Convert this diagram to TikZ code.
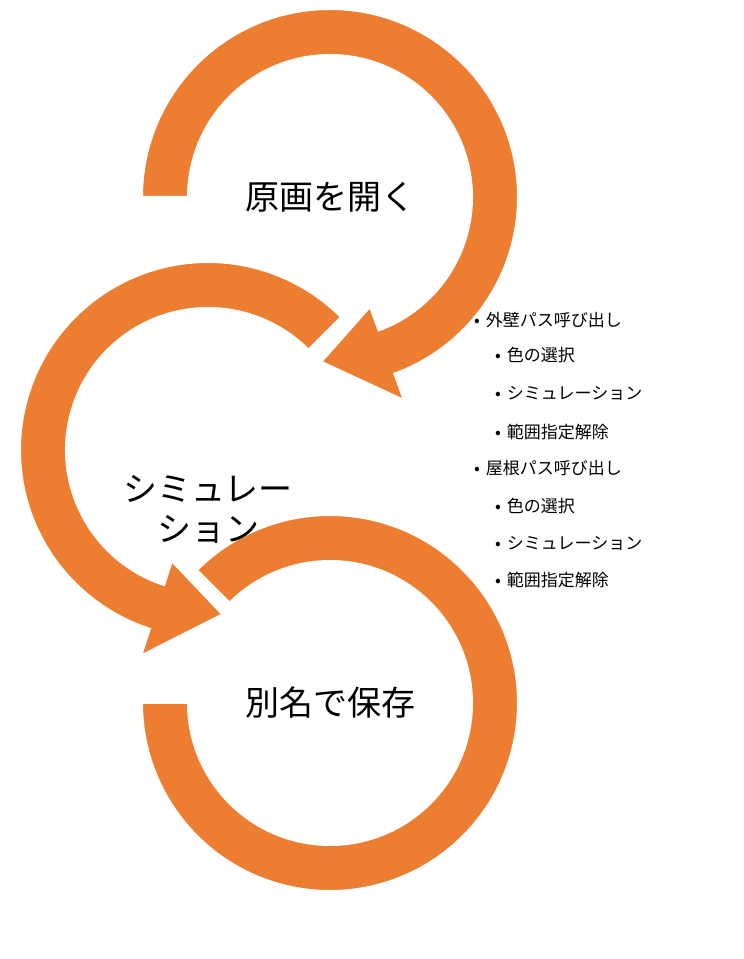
\documentclass[tikz,border=0pt]{standalone}
\usepackage{fontspec}
\setmainfont{Noto Sans CJK JP}
\usetikzlibrary{calc}
\definecolor{ringorange}{RGB}{237,125,49}

\begin{document}
\begin{tikzpicture}[x=1pt, y=1pt,
  ring/.style={fill=ringorange, draw=white, line width=2pt},
  title/.style={font=\fontsize{34}{40}\selectfont, align=center},
  itemone/.style={anchor=west, font=\fontsize{17}{20}\selectfont, inner sep=0pt},
  itemtwo/.style={anchor=west, font=\fontsize{17}{20}\selectfont, inner sep=0pt}]
\useasboundingbox (0,0) rectangle (744,959);
% ring centres
\coordinate (ctop) at (330,762);
\coordinate (cmid) at (208,509);
\coordinate (cbot) at (330,256);

% top ring with arrow
\fill[ring] ($(ctop)+(180:188)$) arc[start angle=180, end angle=-70, radius=188]
  -- ($(ctop)+(-70:216)$) -- ($(ctop)+(-93:165)$) -- ($(ctop)+(-70:117)$)
  -- ($(ctop)+(-70:142)$) arc[start angle=-70, end angle=180, radius=142] -- cycle;
% middle ring with arrow
\fill[ring] ($(cmid)+(45:188)$) arc[start angle=45, end angle=252, radius=188]
  -- ($(cmid)+(252:216)$) -- ($(cmid)+(275:165)$) -- ($(cmid)+(252:117)$)
  -- ($(cmid)+(252:142)$) arc[start angle=252, end angle=45, radius=142] -- cycle;
% bottom ring
\fill[ring] ($(cbot)+(135:188)$) arc[start angle=135, end angle=-180, radius=188]
  -- ($(cbot)+(180:142)$) arc[start angle=-180, end angle=135, radius=142] -- cycle;

% step texts
\node[title] (open) at (ctop) {原画を開く};
\node[title] (sim) at (208,450) {シミュレー\\ション};
\node[title] (save) at (cbot) {別名で保存};

% bullet list
\node[itemone] (wall) at (474,639) {•\hspace{6pt}外壁パス呼び出し};
\node[itemtwo] (wallcol) at (495,604) {•\hspace{6pt}色の選択};
\node[itemtwo] (wallsim) at (495,566) {•\hspace{6pt}シミュレーション};
\node[itemtwo] (wallclr) at (495,527) {•\hspace{6pt}範囲指定解除};
\node[itemone] (roof) at (474,491) {•\hspace{6pt}屋根パス呼び出し};
\node[itemtwo] (roofcol) at (495,453) {•\hspace{6pt}色の選択};
\node[itemtwo] (roofsim) at (495,416) {•\hspace{6pt}シミュレーション};
\node[itemtwo] (roofclr) at (495,379) {•\hspace{6pt}範囲指定解除};
\end{tikzpicture}
\end{document}
